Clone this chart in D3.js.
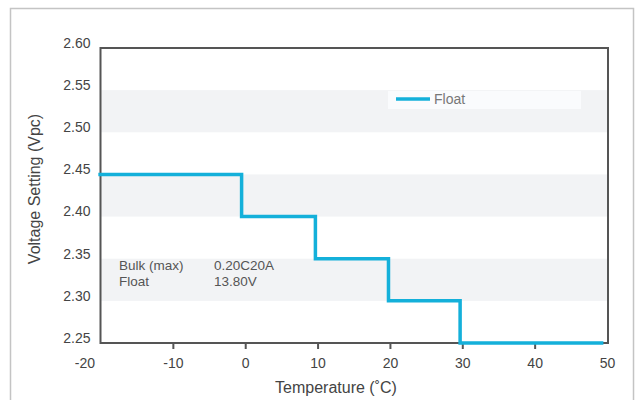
<!DOCTYPE html>
<html>
<head>
<meta charset="utf-8">
<script src="https://cdn.jsdelivr.net/npm/d3@7/dist/d3.min.js"></script>
<style>
  html, body { margin: 0; padding: 0; background: #fff; }
  svg { display: block; font-family: "Liberation Sans", Arial, sans-serif; }
</style>
</head>
<body>
<svg id="chart" width="639" height="400"></svg>
<script>
// ---- data ----
const temps = [-20.3, -0.5, 9.7, 19.8, 29.7, 49.5];      // step edges (°C)
const floatVolts = [2.45, 2.40, 2.35, 2.30, 2.25];       // Vpc per step
const xTicks = [-20, -10, 0, 10, 20, 30, 40, 50];
const yTicks = [2.25, 2.30, 2.35, 2.40, 2.45, 2.50, 2.55, 2.60];
const bands = [[2.50, 2.55], [2.40, 2.45], [2.30, 2.35]];
const seriesName = "Float";
const noteLabels = ["Bulk (max)", "Float"];
const noteValues = ["0.20C20A", "13.80V"];
const xTitle = "Temperature (˚C)";
const yTitle = "Voltage Setting (Vpc)";

// ---- layout ----
const svg = d3.select("#chart");
const L = 100.5, R = 607, T = 48, B = 343;
const x = d3.scaleLinear().domain([-20, 50]).range([L, R]);
const y = d3.scaleLinear().domain([2.25, 2.60]).range([B, T]);
const blue = "#14b0da", axisCol = "#555", textCol = "#444";

// outer frame
svg.append("rect").attr("x", 10.5).attr("y", 8.5).attr("width", 623).attr("height", 420)
  .attr("fill", "none").attr("stroke", "#c4c4c4").attr("stroke-width", 1.5);

// bands
svg.append("g").selectAll("rect").data(bands).join("rect")
  .attr("x", L).attr("width", R - L)
  .attr("y", d => y(d[1])).attr("height", d => y(d[0]) - y(d[1]))
  .attr("fill", "#f2f3f5");

// legend box
const lg = svg.append("g");
lg.append("rect").attr("x", 388).attr("y", 91).attr("width", 193).attr("height", 18).attr("fill", "#fafbfd");
lg.append("line").attr("x1", 396).attr("x2", 430).attr("y1", 99).attr("y2", 99)
  .attr("stroke", blue).attr("stroke-width", 3.5);
lg.append("text").attr("x", 434).attr("y", 103.5).attr("font-size", 14).attr("fill", "#777").text(seriesName);

// notes
const notes = svg.append("g").attr("font-size", 13.5).attr("fill", "#555");
noteLabels.forEach((t, i) => {
  notes.append("text").attr("x", 119).attr("y", 270 + i * 16).text(t);
  notes.append("text").attr("x", 214).attr("y", 270 + i * 16).text(noteValues[i]);
});

// x axis
const xAxis = svg.append("g").attr("transform", `translate(0,${B})`)
  .call(d3.axisBottom(x).tickValues(xTicks).tickSize(6).tickSizeOuter(0).tickFormat(d => String(d)));
xAxis.select(".domain").remove();
xAxis.selectAll(".tick line").attr("stroke", axisCol).attr("stroke-width", 2)
  .attr("display", d => (d === -20 || d === 50) ? "none" : null);
xAxis.selectAll(".tick text").attr("font-size", 14).attr("fill", textCol).attr("dy", "1.15em")
  .attr("font-family", "Liberation Sans, Arial, sans-serif")
  .attr("text-anchor", d => d === -20 ? "end" : "middle")
  .attr("x", d => d === -20 ? -6 : 0);

// y axis (labels only)
const yAxis = svg.append("g").attr("transform", `translate(${L},0)`)
  .call(d3.axisLeft(y).tickValues(yTicks).tickSize(0).tickPadding(10).tickFormat(d3.format(".2f")));
yAxis.select(".domain").remove();
yAxis.selectAll(".tick text").attr("font-size", 14).attr("fill", textCol).attr("dy", "-0.05em")
  .attr("font-family", "Liberation Sans, Arial, sans-serif");

// frame of plot
svg.append("path")
  .attr("d", `M${L},${T}H${R + 1}V${B}H${L}Z`)
  .attr("fill", "none").attr("stroke", axisCol).attr("stroke-width", 2);

// step line
const pts = temps.map((t, i) => [t, floatVolts[Math.min(i, floatVolts.length - 1)]]);
svg.append("path").datum(pts)
  .attr("d", d3.line().x(d => x(d[0])).y(d => y(d[1])).curve(d3.curveStepAfter))
  .attr("fill", "none").attr("stroke", blue).attr("stroke-width", 3.5);

// titles
svg.append("text").attr("x", 336).attr("y", 393).attr("text-anchor", "middle")
  .attr("font-size", 16).attr("fill", textCol).text(xTitle);
svg.append("text").attr("transform", "translate(40,189) rotate(-90)").attr("text-anchor", "middle")
  .attr("font-size", 16).attr("fill", textCol).text(yTitle);
</script>
</body>
</html>
